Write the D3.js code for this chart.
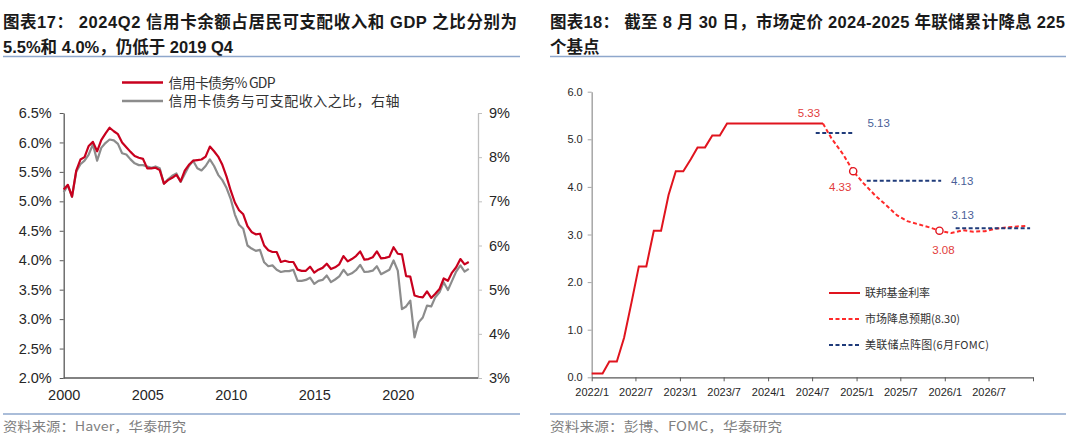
<!DOCTYPE html>
<html><head><meta charset="utf-8">
<script src="https://cdn.jsdelivr.net/npm/d3@7"></script>
<style>
body{margin:0;background:#fff;}
svg{display:block;}
</style></head><body>
<svg id="c" width="1080" height="438"></svg>
<script>
// ---------------- DATA ----------------
// Left chart: quarterly, 2000Q1 .. 2024Q2
const firstYear = 2000;
const creditCardPctGDP = [
 5.20,5.28,5.08,5.52, 5.71,5.75,5.94,6.01, 5.85,6.04,6.15,6.25, 6.19,6.14,6.00,5.92,
 5.84,5.77,5.74,5.72, 5.56,5.56,5.57,5.53, 5.30,5.36,5.40,5.45, 5.34,5.52,5.62,5.69,
 5.70,5.71,5.76,5.93, 5.85,5.76,5.62,5.42, 5.18,4.98,4.85,4.78, 4.58,4.48,4.44,4.45,
 4.25,4.17,4.14,4.14, 3.97,3.99,3.97,3.97, 3.84,3.82,3.82,3.89, 3.79,3.84,3.87,3.94,
 3.85,3.88,3.93,4.07, 3.98,4.02,4.07,4.15, 4.01,4.02,4.05,4.15, 4.03,4.04,4.06,4.22,
 4.11,4.10,3.73,3.72, 3.40,3.38,3.37,3.47, 3.36,3.43,3.51,3.69, 3.65,3.79,3.88,4.02,
 3.93,3.97];
const creditCardPctDPI = [
 7.21,7.36,7.10,7.67, 7.84,7.92,8.06,8.29, 7.92,8.21,8.32,8.40, 8.38,8.30,8.09,8.06,
 7.95,7.86,7.82,7.82, 7.79,7.76,7.79,7.75, 7.40,7.50,7.58,7.63, 7.44,7.62,7.80,7.92,
 7.75,7.70,7.80,7.95, 7.80,7.60,7.48,7.30, 7.05,6.70,6.47,6.38, 6.00,5.93,5.88,5.90,
 5.62,5.53,5.55,5.45, 5.40,5.42,5.42,5.45, 5.20,5.20,5.22,5.27, 5.13,5.20,5.22,5.32,
 5.17,5.23,5.30,5.45, 5.33,5.37,5.44,5.56, 5.40,5.41,5.43,5.53, 5.35,5.40,5.45,5.66,
 5.43,4.56,4.62,4.75, 3.92,4.26,4.37,4.64, 4.62,4.83,4.94,5.17, 4.99,5.20,5.41,5.55,
 5.41,5.47];
const leftYTicks = [2.0,2.5,3.0,3.5,4.0,4.5,5.0,5.5,6.0,6.5];
const rightYTicks = [3,4,5,6,7,8,9];
const leftXTicks = ["2000","2005","2010","2015","2020"];
const leftLegend = ["信用卡债务% GDP","信用卡债务与可支配收入之比，右轴"];

// Right chart
const fedDates = ["2022-01-01","2022-02-15","2022-03-15","2022-04-15","2022-05-15","2022-06-15",
 "2022-07-15","2022-08-15","2022-09-15","2022-10-15","2022-11-15","2022-12-15",
 "2023-01-15","2023-02-15","2023-03-15","2023-04-15","2023-05-15","2023-06-15",
 "2023-07-15","2023-08-15","2023-09-15","2023-10-15","2023-11-15","2023-12-15",
 "2024-01-15","2024-02-15","2024-03-15","2024-04-15","2024-05-15","2024-06-15",
 "2024-07-15","2024-08-15"];
const fedRate = [0.08,0.08,0.33,0.33,0.83,1.58,2.33,2.33,3.08,3.08,3.83,4.33,
 4.33,4.58,4.83,4.83,5.08,5.08,5.33,5.33,5.33,5.33,5.33,5.33,
 5.33,5.33,5.33,5.33,5.33,5.33,5.33,5.33];
const mktDates = ["2024-08-15","2024-09-18","2024-11-07","2024-12-18","2025-01-29","2025-03-19",
 "2025-05-07","2025-06-18","2025-07-30","2025-09-17","2025-10-29","2025-12-10",
 "2026-01-28","2026-03-18","2026-04-29","2026-06-17","2026-07-29","2026-09-16",
 "2026-10-28","2026-12-09"];
const mktRate = [5.33,5.03,4.68,4.33,4.08,3.82,3.60,3.40,3.28,3.21,3.15,3.08,
 3.03,3.09,3.06,3.07,3.12,3.15,3.17,3.18];
const dotStart = ["2024-07-16","2025-02-12","2026-02-15"];
const dotEnd   = ["2024-12-20","2025-12-17","2026-12-20"];
const dotValue = [5.13,4.13,3.13];
const markedDates = ["2024-12-18","2025-12-10"];
const rightYTicksR = [0,1,2,3,4,5,6];
const rightLegend = ["联邦基金利率","市场降息预期(8.30)","美联储点阵图(6月FOMC)"];

const titleL = ["图表17： 2024Q2 信用卡余额占居民可支配收入和 GDP 之比分别为","5.5%和 4.0%，仍低于 2019 Q4"];
const titleR = ["图表18： 截至 8 月 30 日，市场定价 2024-2025 年联储累计降息 225","个基点"];
const sourceL = "资料来源：Haver，华泰研究";
const sourceR = "资料来源：彭博、FOMC，华泰研究";

// ---------------- DRAW ----------------
const FONT = "'Liberation Sans','Noto Sans CJK SC',sans-serif";
const CJK = "'Noto Sans CJK SC','Liberation Sans',sans-serif";
const svg = d3.select("#c");
const parse = d3.timeParse("%Y-%m-%d");

// titles
function title(lines, x, x2, lens){
  lines.forEach((t,i)=>{
    const tx = svg.append("text").attr("x",x).attr("y",27.5+i*25.5).text(t)
      .attr("font-family",FONT).attr("font-weight","bold").attr("font-size",16.5).attr("fill","#1a1a1a");
    if(lens[i]) tx.attr("textLength",lens[i]).attr("lengthAdjust","spacing");
  });
  svg.append("line").attr("x1",x).attr("x2",x2).attr("y1",56.5).attr("y2",56.5)
    .attr("stroke","#8ea7cc").attr("stroke-width",1.6);
  svg.append("line").attr("x1",x).attr("x2",x2).attr("y1",414).attr("y2",414)
    .attr("stroke","#8ea7cc").attr("stroke-width",1.6);
}
title(titleL, 3, 520, [514, 230]);
title(titleR, 550, 1066, [515, null]);
svg.append("text").attr("x",3).attr("y",431).text(sourceL).attr("font-family",CJK).attr("font-size",13)
  .attr("fill","#7f7f7f").attr("textLength",183).attr("lengthAdjust","spacingAndGlyphs");
svg.append("text").attr("x",550).attr("y",431).text(sourceR).attr("font-family",CJK).attr("font-size",13)
  .attr("fill","#7f7f7f").attr("textLength",232).attr("lengthAdjust","spacingAndGlyphs");

// ---- left chart
const qDates = creditCardPctGDP.map((d,i)=> new Date(firstYear + Math.floor(i/4), (i%4)*3, 1));
const xL = d3.scaleTime().domain([new Date(2000,0,1), new Date(2024,9,20)]).range([63.7,478]);
const yL = d3.scaleLinear().domain([2,6.5]).range([378,113]);
const yR = d3.scaleLinear().domain([3,9]).range([378,113]);

const gL = svg.append("g");
const axL = gL.append("g").attr("transform","translate(63.7,0)")
  .call(d3.axisLeft(yL).tickValues(leftYTicks).tickFormat(d=>d.toFixed(1)+"%").tickSize(4).tickSizeOuter(0).tickPadding(8));
axL.select(".domain").attr("stroke","#595959").attr("stroke-width",1.3);
axL.selectAll(".tick line").attr("stroke","#595959");
const axR = gL.append("g").attr("transform","translate(478,0)")
  .call(d3.axisRight(yR).tickValues(rightYTicks).tickFormat(d=>d+"%").tickSize(4).tickSizeOuter(0).tickPadding(7));
axR.select(".domain").attr("stroke","#bfbfbf").attr("stroke-width",1.3);
axR.selectAll(".tick line").attr("stroke","#bfbfbf");
const axB = gL.append("g").attr("transform","translate(0,378)")
  .call(d3.axisBottom(xL).tickValues(leftXTicks.map(y=>new Date(+y,0,1))).tickFormat(d3.timeFormat("%Y")).tickSize(0).tickPadding(12));
axB.select(".domain").attr("stroke","#595959").attr("stroke-width",1.3).attr("d","M63.7,0H478");
[axL,axR,axB].forEach(a=>a.selectAll("text").attr("font-family",FONT).attr("font-size",14.5).attr("fill","#262626"));

gL.append("path").datum(creditCardPctDPI.map((v,i)=>[qDates[i],v]))
  .attr("fill","none").attr("stroke","#8c8c8c").attr("stroke-width",2.2).attr("stroke-linejoin","round")
  .attr("d", d3.line().x(d=>xL(d[0])).y(d=>yR(d[1])));
gL.append("path").datum(creditCardPctGDP.map((v,i)=>[qDates[i],v]))
  .attr("fill","none").attr("stroke","#c8001e").attr("stroke-width",2.2).attr("stroke-linejoin","round")
  .attr("d", d3.line().x(d=>xL(d[0])).y(d=>yL(d[1])));

// left legend
const legColL = ["#c8001e","#8c8c8c"];
const legLenL = [107, 231];
leftLegend.forEach((t,i)=>{
  const y = 82.5 + i*18.5;
  gL.append("line").attr("x1",122).attr("x2",163).attr("y1",y).attr("y2",y).attr("stroke",legColL[i]).attr("stroke-width",2.4);
  gL.append("text").attr("x",168.5).attr("y",y+5).text(t).attr("font-family",CJK).attr("font-size",14).attr("fill","#333")
    .attr("textLength",legLenL[i]).attr("lengthAdjust","spacing");
});

// ---- right chart
const x2 = d3.scaleTime().domain([new Date(2022,0,1), new Date(2027,0,1)]).range([591.7,1033]);
const y2 = d3.scaleLinear().domain([0,6]).range([377.3,91.7]);
const gR = svg.append("g");
const ay2 = gR.append("g").attr("transform","translate(591.7,0)")
  .call(d3.axisLeft(y2).tickValues(rightYTicksR).tickFormat(d3.format(".1f")).tickSize(4).tickSizeOuter(0).tickPadding(5));
ay2.select(".domain").attr("stroke","#a6a6a6").attr("stroke-width",1.5);
ay2.selectAll(".tick line").attr("stroke","#a6a6a6");
const xTicks2 = d3.timeMonth.every(6).range(new Date(2022,0,1), new Date(2027,0,2));
const ax2 = gR.append("g").attr("transform","translate(0,377.3)")
  .call(d3.axisBottom(x2).tickValues(xTicks2).tickFormat(d=> d.getFullYear()===2027 ? "" : d3.timeFormat("%Y/%-m")(d)).tickSize(4).tickSizeOuter(0).tickPadding(7));
ax2.select(".domain").attr("stroke","#595959").attr("stroke-width",1.3);
ax2.selectAll(".tick line").attr("stroke","#595959");
[ay2,ax2].forEach(a=>a.selectAll("text").attr("font-family",FONT).attr("font-size",11).attr("fill","#262626"));

const fedPts = fedDates.map((d,i)=>[parse(d),fedRate[i]]);
const mktPts = mktDates.map((d,i)=>[parse(d),mktRate[i]]);
const ln2 = d3.line().x(d=>x2(d[0])).y(d=>y2(d[1]));
gR.append("path").datum(fedPts).attr("fill","none").attr("stroke","#e0141e").attr("stroke-width",2).attr("d",ln2);
gR.append("path").datum(mktPts).attr("fill","none").attr("stroke","#ff2a2a").attr("stroke-width",2)
  .attr("stroke-dasharray","4,2.5").attr("d",ln2);
dotValue.forEach((v,i)=>{
  gR.append("line").attr("x1",x2(parse(dotStart[i]))).attr("x2",x2(parse(dotEnd[i])))
    .attr("y1",y2(v)).attr("y2",y2(v)).attr("stroke","#1f3b7a").attr("stroke-width",2).attr("stroke-dasharray","4,2.5");
});
markedDates.forEach(d=>{
  const i = mktDates.indexOf(d);
  gR.append("circle").attr("cx",x2(parse(d))).attr("cy",y2(mktRate[i])).attr("r",3.6)
    .attr("fill","#fff").attr("stroke","#e0141e").attr("stroke-width",1.4);
});
// value labels
const red = "#e23b3b", blue = "#4a5f98";
function lab(x,y,t,c){ gR.append("text").attr("x",x).attr("y",y).attr("text-anchor","middle").attr("dominant-baseline","central")
  .text(t).attr("font-family",FONT).attr("font-size",11.5).attr("fill",c); }
const lastFed = fedPts[fedPts.length-1];
lab(x2(lastFed[0])-14, y2(lastFed[1])-11, lastFed[1].toFixed(2), red);
markedDates.forEach((d,k)=>{
  const i = mktDates.indexOf(d);
  const off = k===0 ? [-13,16] : [4,19];
  lab(x2(parse(d))+off[0], y2(mktRate[i])+off[1], mktRate[i].toFixed(2), red);
});
dotValue.forEach((v,i)=>{
  const off = i===0 ? [x2(parse(dotEnd[i]))+25, y2(v)-10] : i===1 ? [x2(parse(dotEnd[i]))+21, y2(v)] : [x2(parse(dotStart[i]))+7, y2(v)-13];
  lab(off[0], off[1], v.toFixed(2), blue);
});
// right legend
const legStyle = [["#e0141e",null],["#ff2a2a","4,2.5"],["#1f3b7a","4,2.5"]];
const legLenR = [65, 95, 124];
rightLegend.forEach((t,i)=>{
  const y = 293 + i*26;
  const l = gR.append("line").attr("x1",829).attr("x2",860).attr("y1",y).attr("y2",y).attr("stroke",legStyle[i][0]).attr("stroke-width",2);
  if(legStyle[i][1]) l.attr("stroke-dasharray",legStyle[i][1]);
  gR.append("text").attr("x",865).attr("y",y+4).text(t).attr("font-family",CJK).attr("font-size",11).attr("fill","#333")
    .attr("textLength",legLenR[i]).attr("lengthAdjust","spacing");
});
</script>
</body></html>
